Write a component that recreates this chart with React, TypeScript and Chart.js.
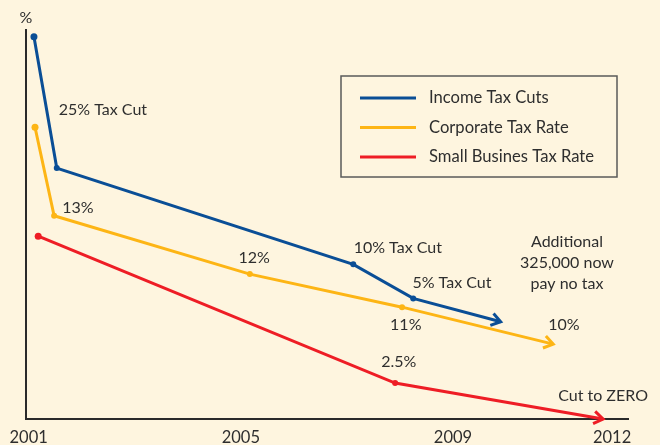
import React, { useEffect, useRef } from "react";
import { Chart, registerables } from "chart.js";

Chart.register(...registerables);

// ---- data ----
const seriesLabels = ["Income Tax Cuts", "Corporate Tax Rate", "Small Busines Tax Rate"];
const seriesColors = ["#0A4E96", "#FDB515", "#EE1D25"];

const incomeX = [2001.1, 2001.53, 2007.12, 2008.25, 2009.9];
const incomeY = [39.3, 25.8, 15.9, 12.4, 10.0];

const corporateX = [2001.12, 2001.48, 2005.17, 2008.04, 2010.89];
const corporateY = [30.0, 20.9, 14.9, 11.5, 7.7];

const smallX = [2001.18, 2007.91, 2011.83];
const smallY = [18.8, 3.7, 0.0];

const yearTicks = [2001, 2005, 2009, 2012];

// annotation texts anchored in data coordinates
const noteTexts = [
  "%",
  "25% Tax Cut",
  "13%",
  "12%",
  "10% Tax Cut",
  "5% Tax Cut",
  "11%",
  "Additional",
  "325,000 now",
  "pay no tax",
  "10%",
  "2.5%",
  "Cut to ZERO",
];
const noteX = [2000.95, 2002.4, 2001.93, 2005.25, 2007.96, 2008.98, 2008.11, 2011.15, 2011.15, 2011.15, 2011.09, 2007.98, 2011.83];
const noteY = [41.3, 31.8, 21.7, 16.55, 17.6, 14.0, 9.67, 18.2, 16.04, 13.88, 9.67, 5.86, 2.37];

const FONT = "Lato, 'Open Sans', sans-serif";
const TEXT = "#2e2e2e";
const BG = "#FEF5DF";

function toPoints(xs: number[], ys: number[]) {
  return xs.map((x, i) => ({ x, y: ys[i] }));
}

const decorPlugin = {
  id: "decor",
  afterDatasetsDraw(chart: any) {
    const ctx = chart.ctx as CanvasRenderingContext2D;
    const xs = chart.scales.x;
    const ys = chart.scales.y;
    ctx.save();
    // arrows at line ends
    chart.data.datasets.forEach((ds: any, i: number) => {
      const meta = chart.getDatasetMeta(i);
      const pts = meta.data;
      const n = pts.length;
      const a = pts[n - 2];
      const b = pts[n - 1];
      const ang = Math.atan2(b.y - a.y, b.x - a.x);
      const len = 11;
      const spread = 0.6;
      ctx.strokeStyle = ds.borderColor;
      ctx.lineWidth = 3;
      ctx.lineCap = "butt";
      ctx.lineJoin = "miter";
      ctx.beginPath();
      ctx.moveTo(b.x - len * Math.cos(ang - spread), b.y - len * Math.sin(ang - spread));
      ctx.lineTo(b.x, b.y);
      ctx.lineTo(b.x - len * Math.cos(ang + spread), b.y - len * Math.sin(ang + spread));
      ctx.stroke();
    });
    // annotations
    ctx.fillStyle = TEXT;
    ctx.font = `16px ${FONT}`;
    ctx.textAlign = "center";
    ctx.textBaseline = "middle";
    noteTexts.forEach((t, i) => {
      ctx.fillText(t, xs.getPixelForValue(noteX[i]), ys.getPixelForValue(noteY[i]));
    });
    // legend box
    const bx = 341, by = 76, bw = 276, bh = 101;
    ctx.strokeStyle = "#5a5a5a";
    ctx.lineWidth = 1.5;
    ctx.strokeRect(bx, by, bw, bh);
    ctx.textAlign = "left";
    ctx.font = `16.6px ${FONT}`;
    chart.data.datasets.forEach((ds: any, i: number) => {
      const yy = by + 22 + i * 29.5;
      ctx.strokeStyle = ds.borderColor;
      ctx.lineWidth = 3;
      ctx.beginPath();
      ctx.moveTo(bx + 19, yy);
      ctx.lineTo(bx + 75, yy);
      ctx.stroke();
      ctx.fillStyle = TEXT;
      ctx.fillText(ds.label, bx + 88, yy);
    });
    ctx.restore();
  },
};

export default function App() {
  const ref = useRef<HTMLCanvasElement | null>(null);
  useEffect(() => {
    document.body.style.margin = "0";
    document.body.style.background = BG;
    const canvas = ref.current!;
    const mk = (xs: number[], ys: number[], i: number) => ({
      label: seriesLabels[i],
      data: toPoints(xs, ys),
      borderColor: seriesColors[i],
      backgroundColor: seriesColors[i],
      borderWidth: 3,
      tension: 0,
      pointRadius: xs.map((_, k) => (k === xs.length - 1 ? 0 : k === 0 ? 3.5 : 3)),
      pointBorderWidth: 0,
      pointHoverRadius: 0,
      clip: false as any,
    });
    const chart = new Chart(canvas, {
      type: "line",
      data: {
        datasets: [mk(incomeX, incomeY, 0), mk(corporateX, corporateY, 1), mk(smallX, smallY, 2)],
      },
      options: {
        animation: false,
        responsive: false,
        maintainAspectRatio: false,
        layout: { padding: { left: 26, right: 32, top: 30, bottom: 0 } },
        plugins: { legend: { display: false }, tooltip: { enabled: false } },
        scales: {
          x: {
            type: "linear",
            min: 2000.95,
            max: 2012.3,
            grid: { display: false, drawTicks: false },
            border: { display: true, color: "#2a2a2a", width: 2 },
            afterBuildTicks: (s: any) => {
              s.ticks = yearTicks.map((v) => ({ value: v }));
            },
            afterFit: (s: any) => {
              s.height = 26;
            },
            ticks: {
              autoSkip: false,
              maxRotation: 0,
              padding: 9,
              color: TEXT,
              font: { family: FONT, size: 16.5 },
              callback: (v: any) => String(v),
            },
          },
          y: {
            type: "linear",
            min: 0,
            max: 40,
            grid: { display: false, drawTicks: false },
            border: { display: true, color: "#2a2a2a", width: 2 },
            ticks: { display: false },
            afterFit: (s: any) => {
              s.width = 0;
            },
          },
        },
      },
      plugins: [decorPlugin],
    });
    return () => chart.destroy();
  }, []);
  return (
    <div style={{ width: 660, height: 445, background: BG, position: "absolute", left: 0, top: 0 }}>
      <canvas ref={ref} width={660} height={445} style={{ display: "block" }} />
    </div>
  );
}
